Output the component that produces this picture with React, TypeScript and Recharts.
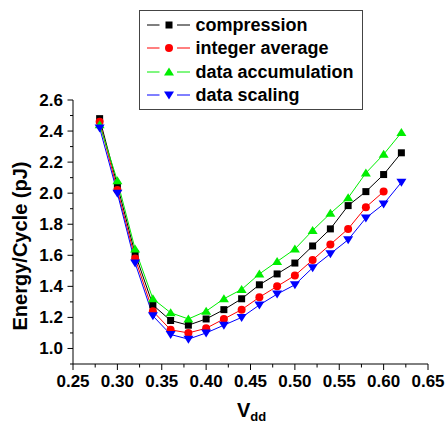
import { LineChart, Line, XAxis, YAxis, Legend } from 'recharts';

const vdd = [0.28, 0.3, 0.32, 0.34, 0.36, 0.38, 0.4, 0.42, 0.44, 0.46, 0.48, 0.5, 0.52, 0.54, 0.56, 0.58, 0.6, 0.62];
const compression = [2.48, 2.05, 1.61, 1.28, 1.18, 1.15, 1.19, 1.25, 1.32, 1.41, 1.48, 1.55, 1.66, 1.77, 1.92, 2.01, 2.12, 2.26];
const integerAverage = [2.46, 2.02, 1.58, 1.24, 1.12, 1.1, 1.13, 1.19, 1.25, 1.33, 1.4, 1.47, 1.57, 1.67, 1.77, 1.91, 2.01, null];
const dataAccumulation = [2.44, 2.08, 1.64, 1.32, 1.23, 1.19, 1.24, 1.32, 1.38, 1.48, 1.56, 1.64, 1.76, 1.87, 1.97, 2.13, 2.25, 2.39];
const dataScaling = [2.42, 2.0, 1.55, 1.21, 1.09, 1.06, 1.1, 1.15, 1.2, 1.28, 1.35, 1.41, 1.52, 1.61, 1.7, 1.84, 1.93, 2.07];

const xTicks = [0.25, 0.275, 0.3, 0.325, 0.35, 0.375, 0.4, 0.425, 0.45, 0.475, 0.5, 0.525, 0.55, 0.575, 0.6, 0.625, 0.65];
const yTicks = [0.9, 1.0, 1.1, 1.2, 1.3, 1.4, 1.5, 1.6, 1.7, 1.8, 1.9, 2.0, 2.1, 2.2, 2.3, 2.4, 2.5, 2.6];

const series = [
  { key: 'compression', name: 'compression', color: '#000000', shape: 'square' },
  { key: 'integerAverage', name: 'integer average', color: '#ff0000', shape: 'circle' },
  { key: 'dataAccumulation', name: 'data accumulation', color: '#00ee00', shape: 'up' },
  { key: 'dataScaling', name: 'data scaling', color: '#0000ff', shape: 'down' },
];

const data = vdd.map((v, i) => ({
  v,
  compression: compression[i],
  integerAverage: integerAverage[i],
  dataAccumulation: dataAccumulation[i],
  dataScaling: dataScaling[i],
}));

const FONT = '"Liberation Sans", Arial, sans-serif';

const Marker = ({ cx, cy, shape, color }: any) => {
  if (cx == null || cy == null || isNaN(cx) || isNaN(cy)) return <g />;
  if (shape === 'square') return <rect x={cx - 3.5} y={cy - 3.5} width={7} height={7} fill={color} />;
  if (shape === 'circle') return <circle cx={cx} cy={cy} r={4} fill={color} />;
  if (shape === 'up') return <path d={`M${cx},${cy - 4.5}L${cx + 5},${cy + 3.5}L${cx - 5},${cy + 3.5}Z`} fill={color} />;
  return <path d={`M${cx},${cy + 4.5}L${cx + 5},${cy - 3.5}L${cx - 5},${cy - 3.5}Z`} fill={color} />;
};

const XTick = ({ x, y, payload }: any) => {
  const v = payload.value;
  const major = Math.abs(v * 20 - Math.round(v * 20)) < 1e-6;
  return (
    <g>
      <line x1={x} x2={x} y1={y} y2={y + (major ? 6 : 3.5)} stroke="#000" />
      {major && (
        <text x={x} y={y + 23} textAnchor="middle" fontFamily={FONT} fontWeight="bold" fontSize={17} fill="#000">
          {v.toFixed(2)}
        </text>
      )}
    </g>
  );
};

const YTick = ({ x, y, payload }: any) => {
  const v = payload.value;
  const major = Math.abs(v * 5 - Math.round(v * 5)) < 1e-6;
  return (
    <g>
      <line x1={x} x2={x - (major ? 5.5 : 3)} y1={y} y2={y} stroke="#000" />
      {major && (
        <text x={x - 10} y={y} dy="0.35em" textAnchor="end" fontFamily={FONT} fontWeight="bold" fontSize={17} fill="#000">
          {v.toFixed(1)}
        </text>
      )}
    </g>
  );
};

const LegendBox = () => (
  <div
    style={{
      border: '1.5px solid #444',
      background: '#fff',
      padding: '2px 0 2px 6.5px',
      width: 224,
      boxSizing: 'border-box',
      fontFamily: FONT,
      fontWeight: 'bold',
      fontSize: 18,
      color: '#000',
    }}
  >
    {series.map((s) => (
      <div key={s.key} style={{ display: 'flex', alignItems: 'center', height: 23.5 }}>
        <svg width={43} height={14} style={{ display: 'block' }}>
          <line x1={0} x2={12.5} y1={7} y2={7} stroke={s.color} />
          <line x1={30} x2={43} y1={7} y2={7} stroke={s.color} />
          <Marker cx={22} cy={7} shape={s.shape} color={s.color} />
        </svg>
        <span style={{ marginLeft: 6, lineHeight: '20px' }}>{s.name}</span>
      </div>
    ))}
  </div>
);

export default function App() {
  return (
    <div style={{ position: 'absolute', left: 0, top: 0 }}>
      <LineChart width={446} height={425} data={data} margin={{ top: 100, right: 18, bottom: 0, left: 0 }}>
        <XAxis
          dataKey="v"
          type="number"
          domain={[0.25, 0.65]}
          ticks={xTicks}
          interval={0}
          height={61}
          tickSize={0}
          tickMargin={0}
          tickLine={false}
          axisLine={{ stroke: '#000' }}
          tick={<XTick />}
          label={{
            content: () => (
              <text x={237} y={417} fontFamily={FONT} fontWeight="bold" fontSize={20} fill="#000">
                V<tspan fontSize={13} dy={4}>dd</tspan>
              </text>
            ),
          }}
        />
        <YAxis
          type="number"
          domain={[0.9, 2.6]}
          ticks={yTicks}
          interval={0}
          width={73}
          tickSize={0}
          tickMargin={0}
          tickLine={false}
          axisLine={{ stroke: '#000' }}
          tick={<YTick />}
          label={{
            content: () => (
              <text
                transform="translate(27,246) rotate(-90)"
                textAnchor="middle"
                fontFamily={FONT}
                fontWeight="bold"
                fontSize={20}
                fill="#000"
              >
                Energy/Cycle (pJ)
              </text>
            ),
          }}
        />
        <Legend
          layout="vertical"
          align="center"
          verticalAlign="middle"
          wrapperStyle={{ left: 139, top: 10, width: 224 }}
          content={() => <LegendBox />}
        />
        {series.map((s) => (
          <Line
            key={s.key}
            dataKey={s.key}
            name={s.name}
            stroke={s.color}
            strokeWidth={1}
            isAnimationActive={false}
            dot={(p: any) => <Marker key={`${s.key}-${p.index}`} cx={p.cx} cy={p.cy} shape={s.shape} color={s.color} />}
          />
        ))}
      </LineChart>
    </div>
  );
}
